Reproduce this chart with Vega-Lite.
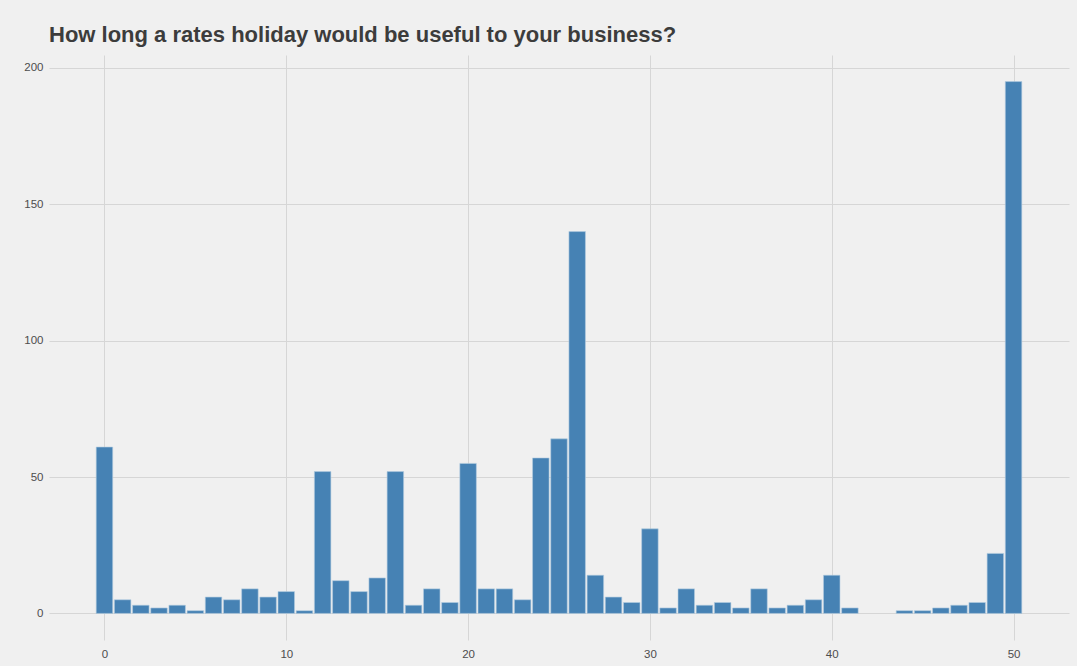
{
  "$schema": "https://vega.github.io/schema/vega-lite/v6.json",
  "autosize": "none",
  "width": 1020,
  "height": 585,
  "padding": {"left": 49, "top": 55, "right": 8, "bottom": 26},
  "background": "#f0f0f0",
  "title": {
    "text": "How long a rates holiday would be useful to your business?",
    "anchor": "start",
    "frame": "group",
    "font": "Liberation Sans",
    "fontSize": 22,
    "fontWeight": "bold",
    "color": "#3c3c3c",
    "offset": 8
  },
  "config": {
    "view": {"stroke": null, "fill": "#f0f0f0"},
    "axis": {
      "domain": false,
      "ticks": false,
      "grid": true,
      "gridColor": "#d6d6d6",
      "gridWidth": 1,
      "labelFont": "Liberation Sans",
      "labelFontSize": 11.5,
      "labelColor": "#4d4d4d",
      "title": null
    }
  },
  "data": {
    "values": [
      {"weeks": 0, "count": 61},
      {"weeks": 1, "count": 5},
      {"weeks": 2, "count": 3},
      {"weeks": 3, "count": 2},
      {"weeks": 4, "count": 3},
      {"weeks": 5, "count": 1},
      {"weeks": 6, "count": 6},
      {"weeks": 7, "count": 5},
      {"weeks": 8, "count": 9},
      {"weeks": 9, "count": 6},
      {"weeks": 10, "count": 8},
      {"weeks": 11, "count": 1},
      {"weeks": 12, "count": 52},
      {"weeks": 13, "count": 12},
      {"weeks": 14, "count": 8},
      {"weeks": 15, "count": 13},
      {"weeks": 16, "count": 52},
      {"weeks": 17, "count": 3},
      {"weeks": 18, "count": 9},
      {"weeks": 19, "count": 4},
      {"weeks": 20, "count": 55},
      {"weeks": 21, "count": 9},
      {"weeks": 22, "count": 9},
      {"weeks": 23, "count": 5},
      {"weeks": 24, "count": 57},
      {"weeks": 25, "count": 64},
      {"weeks": 26, "count": 140},
      {"weeks": 27, "count": 14},
      {"weeks": 28, "count": 6},
      {"weeks": 29, "count": 4},
      {"weeks": 30, "count": 31},
      {"weeks": 31, "count": 2},
      {"weeks": 32, "count": 9},
      {"weeks": 33, "count": 3},
      {"weeks": 34, "count": 4},
      {"weeks": 35, "count": 2},
      {"weeks": 36, "count": 9},
      {"weeks": 37, "count": 2},
      {"weeks": 38, "count": 3},
      {"weeks": 39, "count": 5},
      {"weeks": 40, "count": 14},
      {"weeks": 41, "count": 2},
      {"weeks": 44, "count": 1},
      {"weeks": 45, "count": 1},
      {"weeks": 46, "count": 2},
      {"weeks": 47, "count": 3},
      {"weeks": 48, "count": 4},
      {"weeks": 49, "count": 22},
      {"weeks": 50, "count": 195}
    ]
  },
  "mark": {"type": "bar", "size": 16.5, "color": "#4682b4", "stroke": "#b4cce0", "strokeWidth": 0.6},
  "encoding": {
    "x": {
      "field": "weeks",
      "type": "quantitative",
      "scale": {"domain": [-3.05, 53.05], "nice": false, "zero": false, "padding": 0},
      "axis": {"values": [0, 10, 20, 30, 40, 50], "labelPadding": 8}
    },
    "y": {
      "field": "count",
      "type": "quantitative",
      "scale": {"domain": [-9.75, 204.75], "nice": false, "zero": false},
      "axis": {"values": [0, 50, 100, 150, 200], "labelPadding": 6}
    }
  }
}
